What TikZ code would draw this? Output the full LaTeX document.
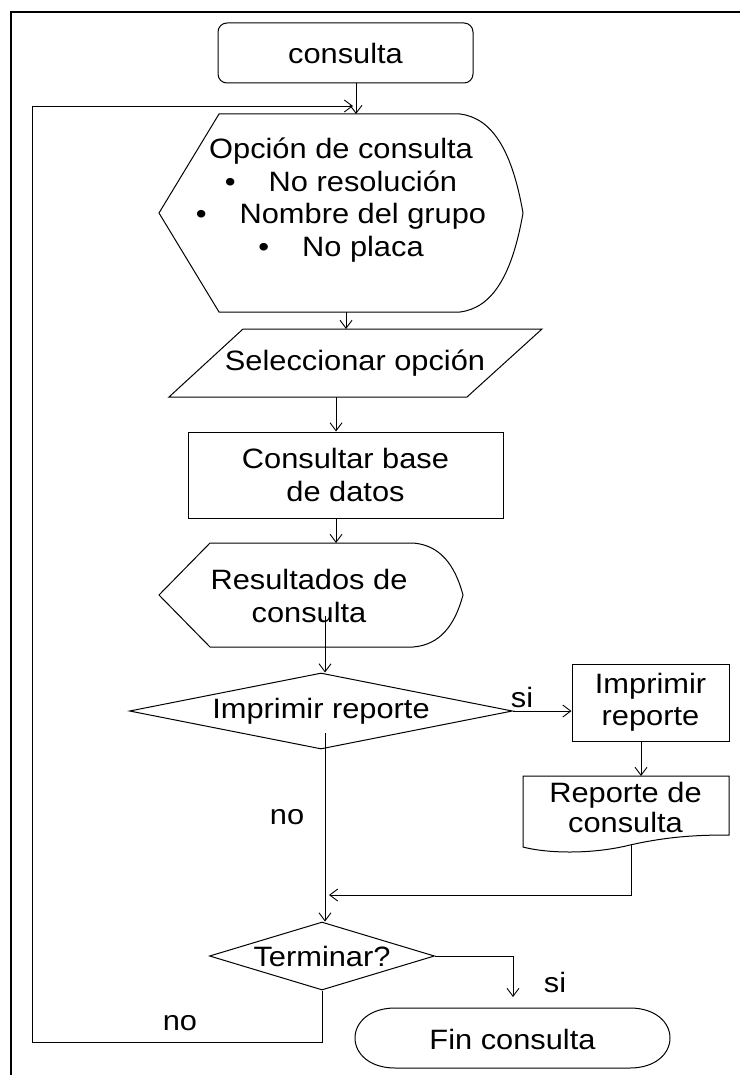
\documentclass[tikz,border=0pt]{standalone}
\usepackage{fontspec}
\setmainfont{Liberation Sans}[FakeStretch=1.1]
\usetikzlibrary{arrows.meta,shapes.geometric}
\newcommand\dfont{\fontsize{28}{32.5}\selectfont}
\begin{document}
\begin{tikzpicture}[x=1pt,y=-1pt,
  shp/.style={draw,line width=1pt},
  box/.style={draw,line width=1pt,inner sep=0pt,align=center,font=\dfont},
  txt/.style={inner sep=0pt,align=center,font=\dfont},
  arr/.style={line width=0.9pt,-{Straight Barb[length=8pt,width=12pt]}}]
\useasboundingbox (0,0) rectangle (740,1075);
\draw[line width=2pt] (11,1075) -- (11,12) -- (740,12);

% start
\node[box,rounded corners=9pt,minimum width=255,minimum height=60] (ini) at (345.5,53) {consulta};

% display 1
\draw[shp] (159,213) -- (219,114) -- (460,114) .. controls (492,118) and (512,150) .. (523,213) .. controls (512,276) and (492,308) .. (460,312) -- (219,312) -- cycle;
\node[txt] (opc) at (341,200) {Opción de consulta\\•\hspace{33pt}No resolución\\•\hspace{33pt}Nombre del grupo\\•\hspace{33pt}No placa};
\coordinate (opcin) at (356,114);
\coordinate (opcout) at (346,312);
\draw[arr] (ini.south -| opcin) -- (opcin);

% parallelogram
\draw[shp] (243,329) -- (542,329) -- (467,397) -- (169,397) -- cycle;
\node[txt] (sel) at (355,363) {Seleccionar opción};
\coordinate (selin) at (346,329);
\coordinate (selout) at (336,397);
\draw[arr] (opcout) -- (selin);

% process
\node[box,minimum width=315,minimum height=86] (cbd) at (345.5,475) {Consultar base\\de datos};
\draw[arr] (selout) -- (selout |- cbd.north);

% display 2
\draw[shp] (159,595) -- (210,543) -- (413,543) .. controls (440,545) and (455,565) .. (463,595) .. controls (455,625) and (440,645) .. (413,647) -- (210,647) -- cycle;
\node[txt] (res) at (309,596) {Resultados de\\consulta};
\coordinate (resin) at (336,543);
\coordinate (resout) at (325,616);
\draw[arr] (cbd.south -| resin) -- (resin);

% decision 1
\node[box,diamond,aspect=5,minimum width=383,minimum height=76] (imp) at (321,711) {Imprimir reporte};
\draw[arr] (resout) -- (resout |- imp.north);

\node[box,minimum width=157,minimum height=77] (rep) at (650.5,702.5) {Imprimir\\reporte};
\draw[arr] (imp.east) -- (imp.east -| rep.west);
\node[txt] (si1) at (522,697) {si};

% document
\draw[shp] (523,847) -- (523,776) -- (729,776) -- (729,835) .. controls (700,835) and (670,836) .. (630,845) .. controls (590,855) and (545,853) .. cycle;
\node[txt,font=\fontsize{28}{30}\selectfont] (rdc) at (625.5,807) {Reporte de\\consulta};
\coordinate (rdcin) at (641,776);
\coordinate (rdcout) at (631,845);
\draw[arr] (rep.south -| rdcin) -- (rdcin);

% merge
\coordinate (impout) at (325,733);
\coordinate (mrg) at (329,895);
\node[txt] (no1) at (287,817) {no};
\node[box,diamond,aspect=3.3,minimum width=225,minimum height=68] (ter) at (322,956) {Terminar?};
\draw[arr] (impout) -- (impout |- ter.north);
\draw[arr] (rdcout) |- (mrg);

% end
\node[txt] (fin) at (512.5,1039) {Fin consulta};
\draw[shp] (395,1008) -- (630,1008) .. controls (655,1008) and (670,1022) .. (670,1038) .. controls (670,1054) and (655,1068) .. (630,1068) -- (395,1068) .. controls (370,1068) and (355,1054) .. (355,1038) .. controls (355,1022) and (370,1008) .. cycle;
\coordinate (finin) at (513,997);
\draw[arr] (ter.east) -| (finin);
\node[txt] (si2) at (555,982) {si};

% loop back
\coordinate (lp1) at (32,1042);
\coordinate (lpend) at (353,106);
\draw[arr] (ter.south) -- (ter.south |- lp1) -- (lp1) -- (lp1 |- lpend) -- (lpend);
\node[txt] (no2) at (180,1023) {no};
\end{tikzpicture}
\end{document}
